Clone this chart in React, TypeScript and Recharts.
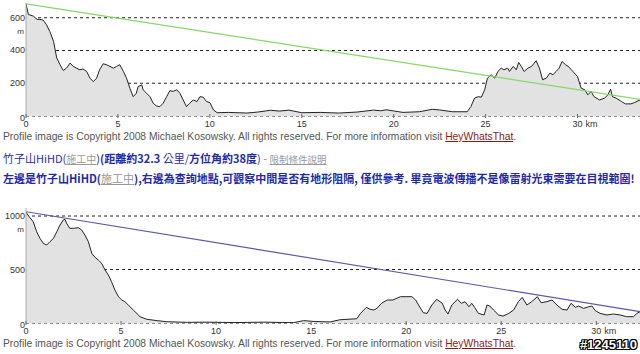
import { ComposedChart, Area, Line, XAxis, YAxis, CartesianGrid } from "recharts";

// [km, elevation m]
const topProfile: [number, number][] = [
  [0, 685], [0.13, 620], [0.4, 610], [0.6, 590], [0.76, 590], [0.94, 585], [1.1, 560], [1.3, 515],
  [1.5, 455], [1.67, 355], [1.85, 313], [2.03, 278], [2.2, 292], [2.4, 323], [2.57, 303], [2.75, 292],
  [2.93, 282], [3.1, 287], [3.3, 272], [3.48, 231], [3.66, 210], [3.84, 231], [4.0, 282], [4.2, 319],
  [4.38, 313], [4.57, 303], [4.75, 292], [4.93, 303], [5.1, 313], [5.3, 272], [5.47, 231], [5.65, 170],
  [5.83, 118], [6.0, 139], [6.1, 180], [6.3, 190], [6.37, 160], [6.56, 139], [6.74, 118], [6.92, 78],
  [7.1, 61], [7.28, 57], [7.46, 78], [7.65, 118], [7.83, 155], [8.0, 150], [8.2, 160], [8.37, 139],
  [8.55, 98], [8.73, 57], [8.9, 78], [9.1, 98], [9.3, 88], [9.46, 118], [9.64, 115], [9.82, 88],
  [10.0, 82], [10.2, 37], [10.4, 20], [11.0, 22], [12.0, 18], [12.6, 24], [13.3, 35], [13.8, 30],
  [14.3, 36], [15.0, 20], [16.0, 22], [17.0, 18], [18.0, 24], [18.9, 36], [19.3, 32], [19.6, 38],
  [20.5, 22], [21.4, 26], [22.1, 41], [22.5, 37], [23.2, 26], [24.0, 26], [24.2, 57], [24.4, 109],
  [24.6, 118], [24.77, 115], [24.95, 160], [25.1, 231], [25.3, 252], [25.5, 231], [25.67, 272],
  [25.85, 292], [26.0, 282], [26.2, 292], [26.3, 272], [26.5, 303], [26.67, 282], [26.8, 327],
  [26.94, 303], [27.1, 272], [27.3, 292], [27.5, 303], [27.75, 337], [27.93, 292], [28.1, 221],
  [28.3, 231], [28.5, 262], [28.66, 252], [28.84, 272], [29.0, 292], [29.16, 333], [29.35, 313],
  [29.5, 303], [29.75, 272], [30.0, 241], [30.2, 170], [30.4, 160], [30.56, 129], [30.74, 150],
  [30.9, 118], [31.2, 98], [31.47, 109], [31.65, 129], [31.8, 164], [31.9, 118], [32.1, 109],
  [32.4, 88], [32.6, 74], [32.9, 74], [33.1, 82], [33.4, 98],
];
const topSight: [number, number][] = [[0, 685], [33.4, 102]];
const topYTicks = [0, 200, 400, 600];

// [km, elevation m]
const bottomProfile: [number, number][] = [
  [0, 1035], [0.17, 993], [0.38, 947], [0.56, 853], [0.74, 790], [0.91, 744], [1.09, 729], [1.26, 760],
  [1.44, 790], [1.62, 853], [1.79, 916], [1.96, 963], [2.05, 969], [2.14, 932], [2.3, 885], [2.5, 885],
  [2.75, 891], [2.93, 869], [3.1, 822], [3.28, 760], [3.46, 651], [3.63, 614], [3.8, 589], [3.98, 558],
  [4.16, 495], [4.33, 449], [4.5, 386], [4.68, 308], [4.86, 246], [5.04, 215], [5.2, 199], [5.38, 168],
  [5.65, 121], [6.0, 59], [6.35, 35], [6.9, 22], [7.4, 12], [8.5, 6], [9.5, 8], [11, 4], [12.5, 8],
  [13.5, 5], [14.07, 3], [14.6, 22], [15.2, 14], [16, 10], [16.5, 30], [17.4, 40], [17.6, 90],
  [17.9, 146], [18.1, 128], [18.3, 121], [18.46, 137], [18.7, 184], [19.0, 215], [19.3, 215],
  [19.7, 246], [20.0, 246], [20.3, 246], [20.5, 215], [20.65, 168], [20.9, 96], [21.1, 90],
  [21.35, 168], [21.6, 221], [21.9, 184], [22.05, 121], [22.2, 84], [22.4, 168], [22.7, 221],
  [22.9, 184], [23.1, 199], [23.3, 152], [23.45, 184], [23.6, 146], [23.8, 90], [24.1, 75],
  [24.25, 168], [24.4, 159], [24.6, 121], [24.86, 75], [25.1, 65], [25.4, 90], [25.65, 121],
  [25.9, 199], [26.1, 240], [26.35, 168], [26.6, 199], [26.9, 246], [27.1, 190], [27.4, 199],
  [27.67, 215], [27.93, 168], [28.2, 128], [28.46, 121], [28.67, 184], [28.9, 146], [29.07, 159],
  [29.33, 137], [29.6, 152], [29.77, 159], [29.95, 115], [30.2, 90], [30.56, 75], [30.9, 84],
  [31.26, 75], [31.6, 59], [31.96, 59], [32.14, 90], [32.3, 106],
];
const bottomSight: [number, number][] = [[0, 1040], [32.3, 106]];
const bottomYTicks = [0, 500, 1000];

const kmTicks = [0, 5, 10, 15, 20, 25, 30];

const latin = "'Liberation Sans', Arial, sans-serif";
const cjk = "'Noto Sans CJK TC', 'Liberation Sans', sans-serif";

const toRows = (pts: [number, number][]) => pts.map(([km, h]) => ({ km, h }));

const KmTick = ({ x, y, payload }: any) => (
  <g>
    <line x1={x} x2={x} y1={y - 4} y2={y} stroke="#666" />
    <text x={x} y={y + 9} textAnchor="middle" fontSize={9} fill="#333" fontFamily={latin}>
      {payload.value}
    </text>
    {payload.value === 30 && (
      <text x={x + 8} y={y + 9} fontSize={9} fill="#333" fontFamily={latin}>
        km
      </text>
    )}
  </g>
);

const makeElevTick = (top: number) => ({ x, y, payload }: any) => (
  <g>
    <text x={x + 1} y={y + (payload.value === 0 ? 5 : 3)} textAnchor="end" fontSize={9} fill="#333" fontFamily={latin}>
      {payload.value}
    </text>
    {payload.value === top && (
      <text x={x} y={y + 16} textAnchor="end" fontSize={8} fill="#333" fontFamily={latin}>
        m
      </text>
    )}
  </g>
);

const Profile = ({
  profile,
  sight,
  sightColor,
  yMax,
  xMax,
  yTicks,
  height,
}: {
  profile: [number, number][];
  sight: [number, number][];
  sightColor: string;
  yMax: number;
  xMax: number;
  yTicks: number[];
  height: number;
}) => (
  <ComposedChart width={640} height={height} data={toRows(profile)} margin={{ top: 3, right: 0, bottom: 0, left: 0 }}>
    <CartesianGrid vertical={false} horizontalValues={yTicks} stroke="#222" strokeDasharray="3 3" />
    <XAxis
      dataKey="km"
      type="number"
      domain={[0, xMax]}
      ticks={kmTicks}
      height={14}
      tickSize={0}
      tickLine={false}
      axisLine={false}
      tick={<KmTick />}
      allowDataOverflow
    />
    <YAxis
      type="number"
      domain={[0, yMax]}
      ticks={yTicks}
      width={26}
      tickSize={0}
      tickLine={false}
      axisLine={{ stroke: "#aaa" }}
      tick={makeElevTick(yTicks[yTicks.length - 1])}
      allowDataOverflow
    />
    <Area
      type="linear"
      dataKey="h"
      stroke="#222"
      strokeWidth={1}
      fill="#e2e2e2"
      fillOpacity={1}
      dot={false}
      activeDot={false}
      isAnimationActive={false}
    />
    <Line
      data={toRows(sight)}
      type="linear"
      dataKey="h"
      stroke={sightColor}
      strokeWidth={1.2}
      dot={false}
      activeDot={false}
      isAnimationActive={false}
    />
  </ComposedChart>
);

const Copyright = ({ top }: { top: number }) => (
  <div
    style={{
      position: "absolute",
      left: 3,
      top,
      fontFamily: latin,
      fontSize: 10.3,
      lineHeight: "13px",
      color: "#555",
      whiteSpace: "nowrap",
    }}
  >
    Profile image is Copyright 2008 Michael Kosowsky. All rights reserved. For more information visit{" "}
    <span style={{ color: "#8b1a1a", textDecoration: "underline" }}>HeyWhatsThat</span>.
  </div>
);

const grayLink = { color: "#999", textDecoration: "underline", fontWeight: 400 } as const;

export default function App() {
  return (
    <div style={{ position: "absolute", left: 0, top: 0, width: 640, height: 354, background: "#fff", overflow: "hidden" }}>
      <div style={{ position: "absolute", left: 0, top: 0 }}>
        <Profile profile={topProfile} sight={topSight} sightColor="#86d866" yMax={690} xMax={33.4} yTicks={topYTicks} height={130} />
      </div>
      <Copyright top={130} />
      <div
        style={{
          position: "absolute",
          left: 3,
          top: 151,
          fontFamily: cjk,
          fontSize: 11,
          lineHeight: "14px",
          color: "#1f2aa8",
          whiteSpace: "nowrap",
        }}
      >
        竹子山HiHD(<span style={{ ...grayLink, fontSize: 10 }}>施工中</span>)<b>(距離約32.3</b> 公里/<b>方位角約38度</b>)
        <span style={{ color: "#888" }}> - </span>
        <span style={{ ...grayLink, fontSize: 9.5 }}>限制條件說明</span>
      </div>
      <div
        style={{
          position: "absolute",
          left: 3,
          top: 171,
          fontFamily: cjk,
          fontSize: 11,
          lineHeight: "14px",
          fontWeight: 700,
          color: "#1f2aa8",
          whiteSpace: "nowrap",
        }}
      >
        左邊是竹子山HiHD(<span style={grayLink}>施工中</span>),右邊為查詢地點,可觀察中間是否有地形阻隔, 僅供參考. 畢竟電波傳播不是像雷射光束需要在目視範圍!
      </div>
      <div style={{ position: "absolute", left: 0, top: 205 }}>
        <Profile profile={bottomProfile} sight={bottomSight} sightColor="#5a5aa8" yMax={1075} xMax={32.3} yTicks={bottomYTicks} height={132} />
      </div>
      <Copyright top={337} />
      <div
        style={{
          position: "absolute",
          right: 3,
          top: 337,
          fontFamily: latin,
          fontSize: 13,
          fontWeight: 700,
          lineHeight: "16px",
          color: "#fff",
          whiteSpace: "nowrap",
          textShadow: "1px 0 #000, -1px 0 #000, 0 1px #000, 0 -1px #000, 1px 1px #000, -1px -1px #000, 1px -1px #000, -1px 1px #000",
        }}
      >
        #1245110
      </div>
    </div>
  );
}
